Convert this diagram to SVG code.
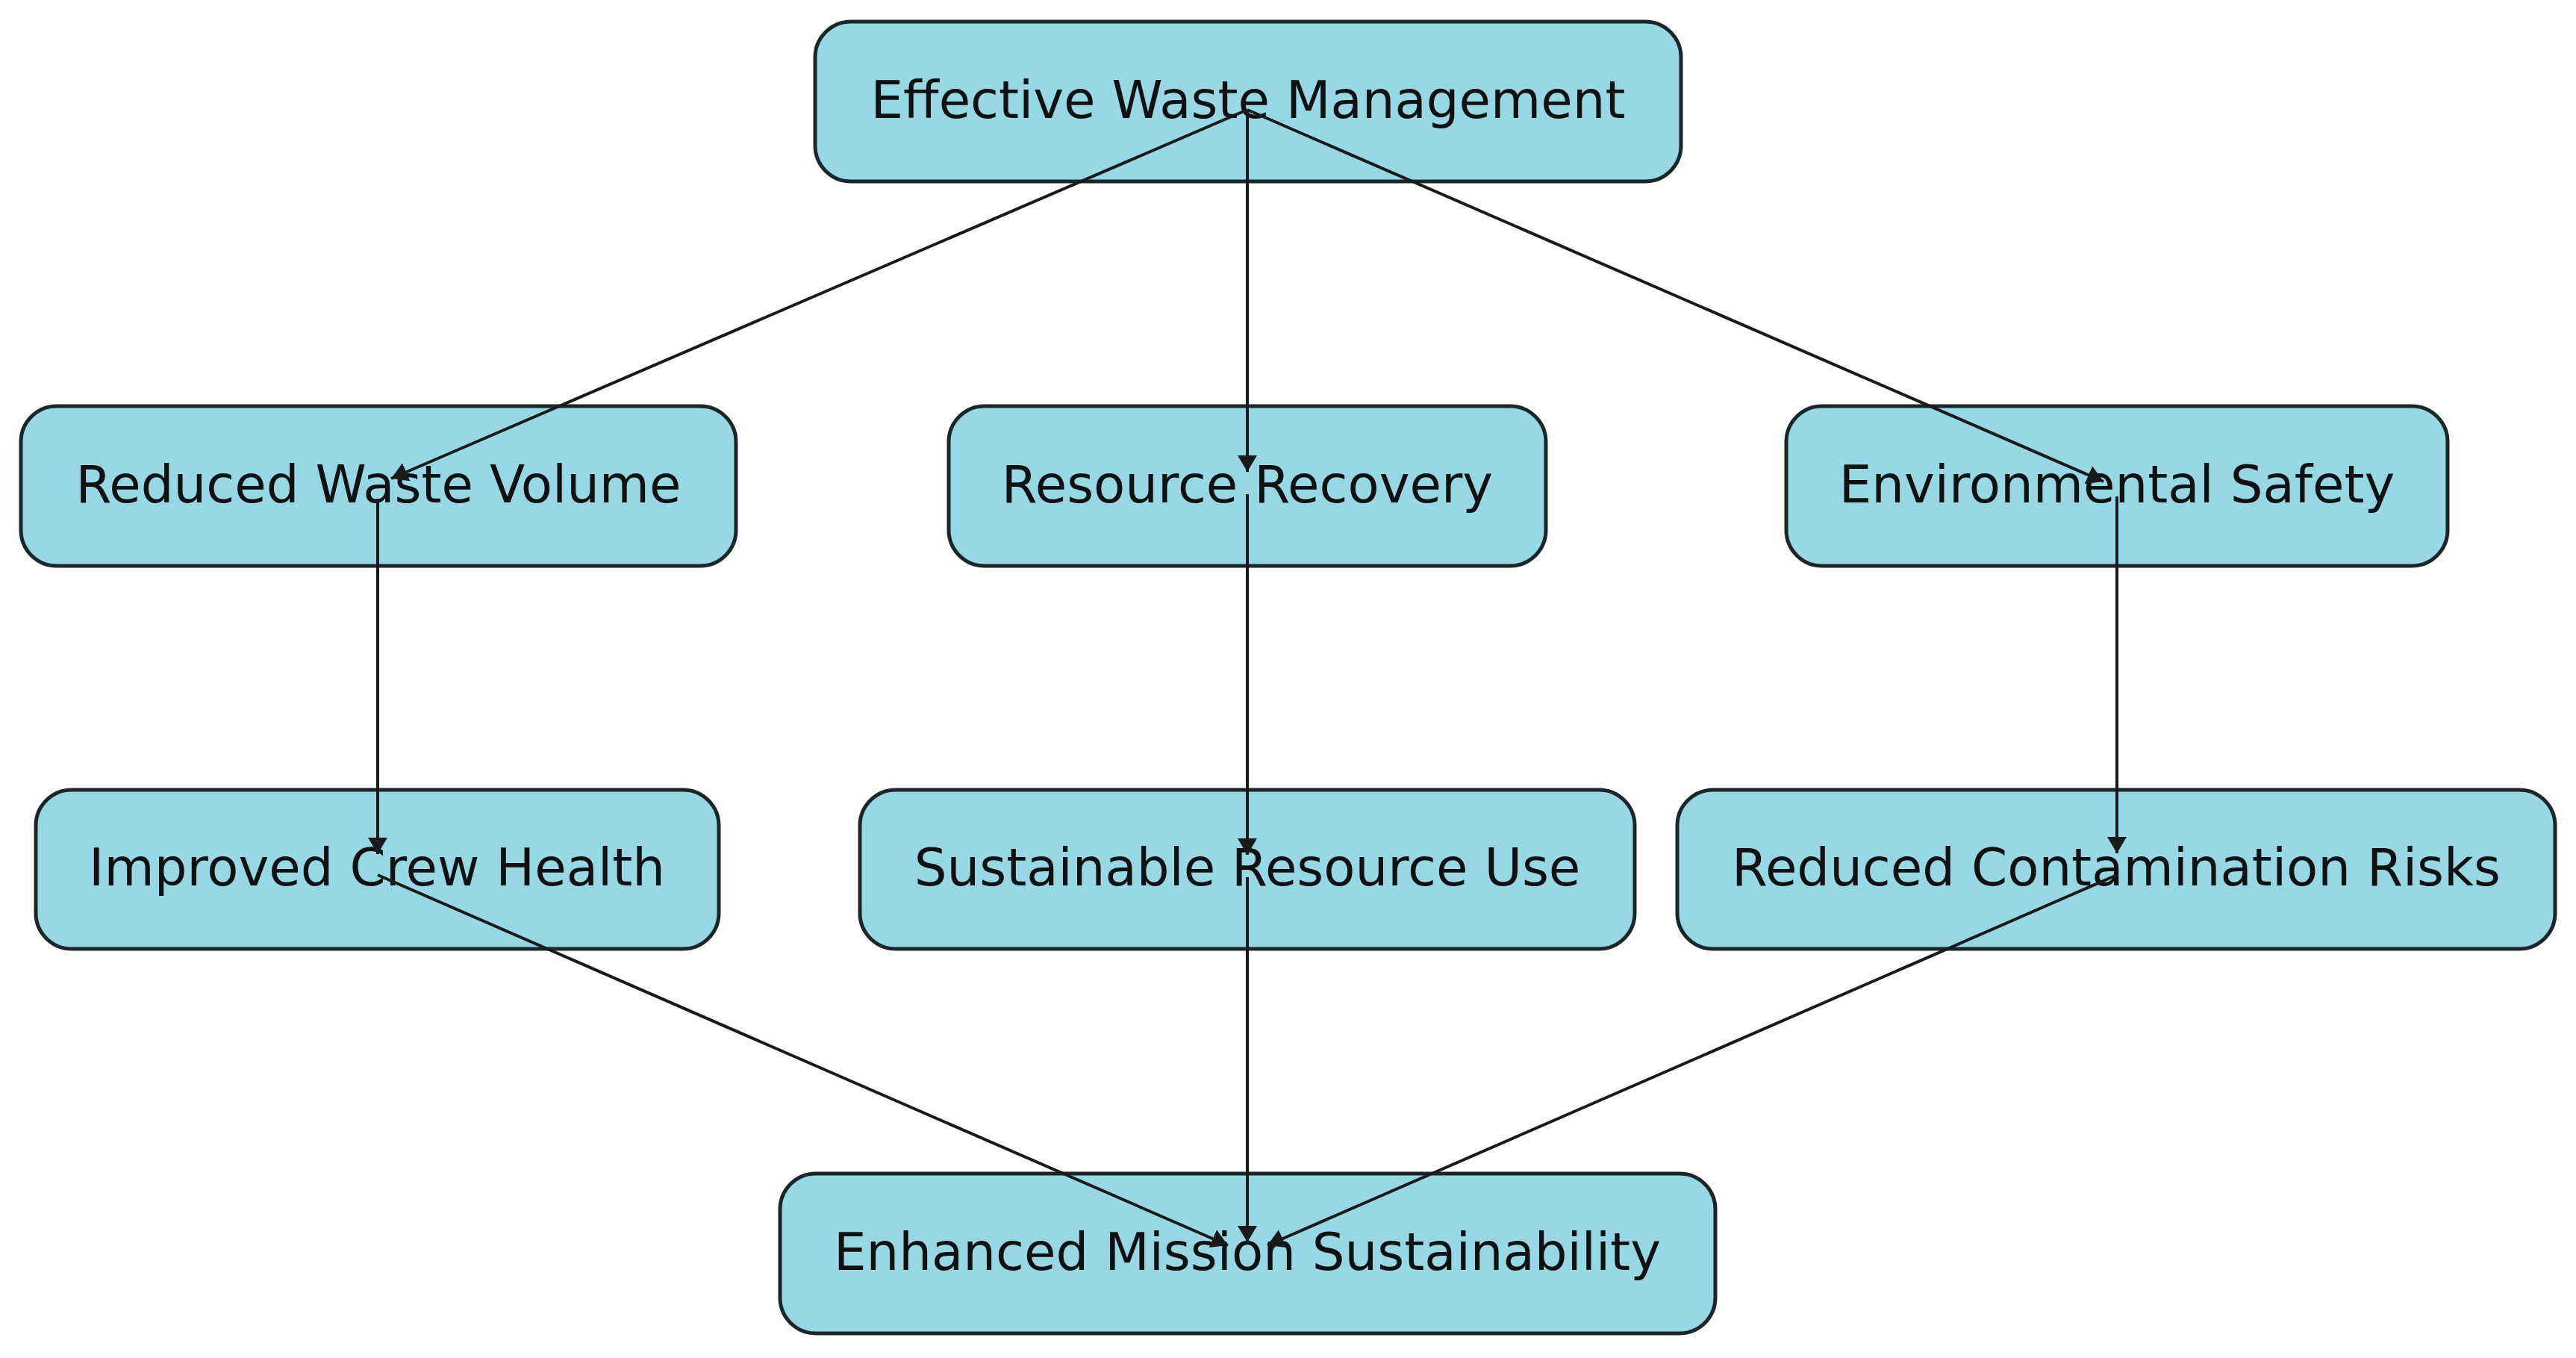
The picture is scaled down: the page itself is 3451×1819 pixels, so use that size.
<svg xmlns="http://www.w3.org/2000/svg" width="3451" height="1819" viewBox="0 0 3451 1819">
<style>
.box{fill:#98d8e6;stroke:#1b2629;stroke-width:5}
.lbl{font-family:"DejaVu Sans","Liberation Sans",sans-serif;font-size:69px;fill:#111;text-anchor:middle}
.edge{stroke:#1a1a1a;stroke-width:4;fill:none;marker-end:url(#ah)}
</style>
<defs>
<marker id="ah" markerUnits="userSpaceOnUse" viewBox="0 0 22 26" refX="22" refY="13" markerWidth="22" markerHeight="26" orient="auto">
<path d="M0,0 L22,13 L0,26 z" fill="#1a1a1a"/>
</marker>
</defs>
<rect width="3451" height="1819" fill="#ffffff"/>
<g id="nodes-boxes">
<g id="n-effective"><rect class="box" x="1092" y="29" width="1160" height="214" rx="48"/></g>
<g id="n-reduced-waste"><rect class="box" x="28" y="544" width="958" height="214" rx="48"/></g>
<g id="n-resource-recovery"><rect class="box" x="1271" y="544" width="800" height="214" rx="48"/></g>
<g id="n-env-safety"><rect class="box" x="2393" y="544" width="886" height="214" rx="48"/></g>
<g id="n-crew-health"><rect class="box" x="48" y="1058" width="915" height="213" rx="48"/></g>
<g id="n-sustainable"><rect class="box" x="1152" y="1058" width="1038" height="213" rx="48"/></g>
<g id="n-contamination"><rect class="box" x="2247" y="1058" width="1176" height="213" rx="48"/></g>
<g id="n-mission"><rect class="box" x="1045" y="1572" width="1253" height="214" rx="48"/></g>
</g>
<g id="labels">
<text class="lbl" x="1672" y="158">Effective Waste Management</text>
<text class="lbl" x="507" y="673">Reduced Waste Volume</text>
<text class="lbl" x="1671" y="673">Resource Recovery</text>
<text class="lbl" x="2836" y="673">Environmental Safety</text>
<text class="lbl" x="505" y="1186">Improved Crew Health</text>
<text class="lbl" x="1671" y="1186">Sustainable Resource Use</text>
<text class="lbl" x="2835" y="1186">Reduced Contamination Risks</text>
<text class="lbl" x="1671" y="1701">Enhanced Mission Sustainability</text>
</g>
<g id="connectors">
<line class="edge" x1="1671" y1="147" x2="524" y2="641"/>
<line class="edge" x1="1671" y1="147" x2="1671" y2="632"/>
<line class="edge" x1="1671" y1="147" x2="2818" y2="645"/>
<line class="edge" x1="506" y1="668" x2="506" y2="1144"/>
<line class="edge" x1="1671" y1="662" x2="1671" y2="1145"/>
<line class="edge" x1="2836" y1="665" x2="2836" y2="1143"/>
<line class="edge" x1="506" y1="1172" x2="1645" y2="1668"/>
<line class="edge" x1="1671" y1="1175" x2="1671" y2="1664"/>
<line class="edge" x1="2836" y1="1172" x2="1698" y2="1668"/>
</g>
</svg>
